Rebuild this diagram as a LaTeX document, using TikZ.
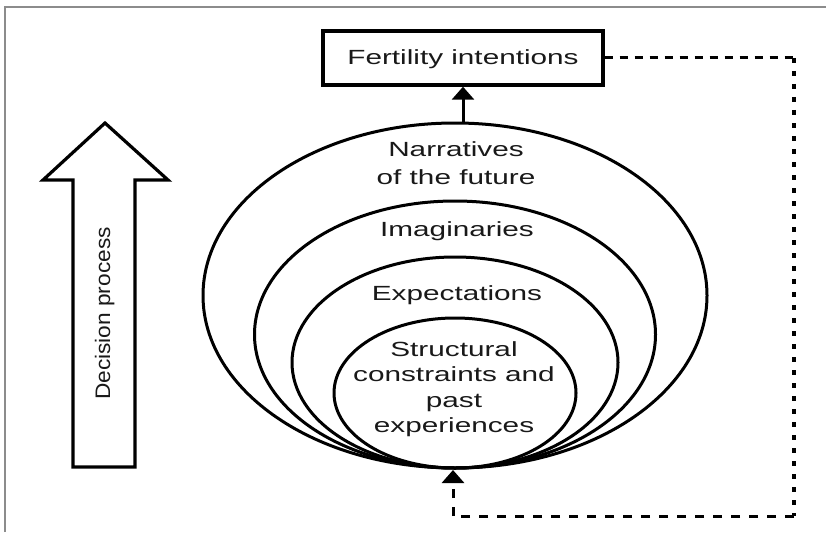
\documentclass[tikz,border=0pt]{standalone}
\usepackage{fontspec}
\setmainfont{Liberation Sans}
\newfontfamily\widefont{Liberation Sans}[FakeStretch=1.45]
\newfontfamily\narrowfont{Liberation Sans}[FakeStretch=1.08]
\usetikzlibrary{shapes.geometric,arrows.meta}
\begin{document}
\begin{tikzpicture}[x=1pt,y=-1pt,
  ring/.style={draw, ellipse, line width=3pt, inner sep=0pt},
  lbl/.style={font=\widefont\fontsize{20.5}{25.5}\selectfont, text=black!90, align=center, inner sep=0pt},
  box/.style={draw, line width=3.4pt, inner sep=0pt, minimum width=280pt, minimum height=54pt},
  arrowtip/.style={-{Triangle[width=22pt,length=13pt]}},
  dashA/.style={line width=3pt, dash pattern=on 8pt off 7pt},
  dotB/.style={line width=4pt, dash pattern=on 5pt off 8pt},
  dashC/.style={line width=3pt, dash pattern=on 9pt off 9pt},
  frame/.style={draw=black!45, line width=1.5pt},
  bigarrow/.style={draw, line width=3.2pt, line join=miter}
]
\useasboundingbox (0,0) rectangle (826,532);
% frame
\draw[frame] (5,532) -- (5,7) -- (826,7);

% ellipses
\node[ring, minimum width=504pt, minimum height=345pt] (outer) at (455,295.5) {};
\node[ring, minimum width=401pt, minimum height=267pt] (imag) at (455,334.5) {};
\node[ring, minimum width=326pt, minimum height=211pt] (expect) at (455,362.5) {};
\node[ring, minimum width=242pt, minimum height=150pt] (inner) at (455,393) {};

% labels
\node[lbl, font=\widefont\fontsize{20.5}{28}\selectfont] (narrL) at (456,162.7) {Narratives\\of the future};
\node[lbl, anchor=base] (imagL) at (457,236.5) {Imaginaries};
\node[lbl, anchor=base] (expL) at (457,300) {Expectations};
\node[lbl] (innerL) at (454,389) {Structural\\constraints and\\past\\experiences};

% box
\node[box, lbl, text height=15pt, text depth=1pt] (fert) at (463,58) {Fertility intentions};

% arrow ellipse -> box
\draw[line width=3pt, arrowtip] (fert.south |- outer.north) -- (fert.south);

% feedback loop
\coordinate (tr) at (794,58);
\coordinate (br) at (794,516);
\coordinate (bl) at (453,516);
\coordinate (btip) at (453,470);
\draw[dashA] (fert.east) -- (tr);
\draw[dotB] (tr) -- (br);
\draw[dashC] (br) -- (bl);
\draw[dashC, arrowtip] (bl) -- (btip);

% decision process arrow
\draw[bigarrow] (73,467) -- (73,180) -- (43,180) -- (105,123) -- (168,180) -- (135,180) -- (135,467) -- cycle;
\node[font=\narrowfont\fontsize{21}{25}\selectfont, text=black!90, rotate=90, anchor=base, inner sep=0pt] (dec) at (110,313.5) {Decision process};
\end{tikzpicture}
\end{document}
